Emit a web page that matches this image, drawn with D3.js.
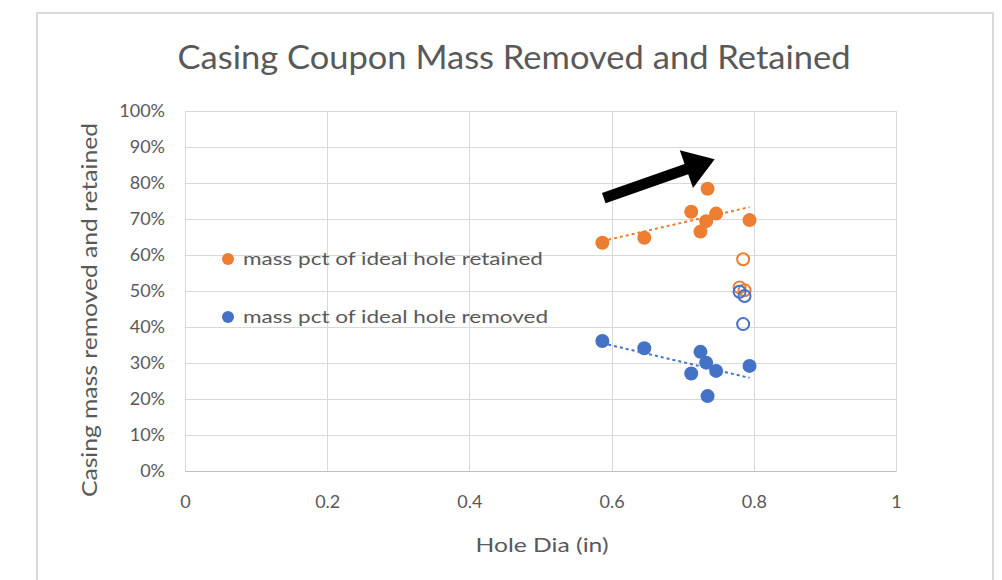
<!DOCTYPE html>
<html>
<head>
<meta charset="utf-8">
<script src="https://cdn.jsdelivr.net/npm/d3@7"></script>
<style>
  body { margin: 0; background: #fff; }
  text { font-family: Lato, "Open Sans", sans-serif; fill: #595959; }
</style>
</head>
<body>
<div id="chart"></div>
<script>
// hole dia (in) and mass pct
const holeDia      = [0.587, 0.646, 0.712, 0.735, 0.747, 0.733, 0.725, 0.794]
const pctRetained  = [0.634, 0.648, 0.720, 0.784, 0.715, 0.694, 0.665, 0.697]
const pctRemoved   = [0.361, 0.341, 0.271, 0.208, 0.278, 0.301, 0.331, 0.292]
// hollow (outlier) points
const outlierDia      = [0.785, 0.787, 0.780]
const outlierRetained = [0.588, 0.502, 0.510]
const outlierRemoved  = [0.408, 0.486, 0.498]
const xTicks = [0, 0.2, 0.4, 0.6, 0.8, 1]
const yTicks = [0, 0.1, 0.2, 0.3, 0.4, 0.5, 0.6, 0.7, 0.8, 0.9, 1]
const legendLabels = ['mass pct of ideal hole retained', 'mass pct of ideal hole removed']
// annotation arrow, in data units: [dia, pct]
const arrowFrom = [0.589, 0.758]
const arrowTo = [0.745, 0.866]

const ORANGE = '#ed7d31'
const BLUE = '#4472c4'
const GRID = '#d9d9d9'

const W = 1002, H = 580
const margin = {top: 111, right: 106, bottom: 109, left: 185}

const svg = d3.select('#chart').append('svg')
    .attr('width', W)
    .attr('height', H)

// chart border
svg.append('path')
    .attr('d', `M37,${H} V13 H993 V${H}`)
    .attr('fill', 'none')
    .attr('stroke', GRID)
    .attr('stroke-width', 2)

const x = d3.scaleLinear().domain([0, 1]).range([margin.left, W - margin.right])
const y = d3.scaleLinear().domain([0, 1]).range([H - margin.bottom, margin.top])

// gridlines
svg.append('g').selectAll('line')
    .data(yTicks)
    .join('line')
    .attr('x1', x(0)).attr('x2', x(1))
    .attr('y1', d => Math.round(y(d)) + 0.5).attr('y2', d => Math.round(y(d)) + 0.5)
    .attr('stroke', GRID)
svg.append('g').selectAll('line')
    .data(xTicks)
    .join('line')
    .attr('y1', y(0)).attr('y2', y(1))
    .attr('x1', d => Math.round(x(d)) + 0.5).attr('x2', d => Math.round(x(d)) + 0.5)
    .attr('stroke', GRID)

// axes
const xAxis = svg.append('g')
    .attr('transform', `translate(0,${y(0)})`)
    .call(d3.axisBottom(x).tickValues(xTicks).tickSize(0).tickPadding(24).tickFormat(d3.format('')))
const yAxis = svg.append('g')
    .attr('transform', `translate(${x(0)},0)`)
    .call(d3.axisLeft(y).tickValues(yTicks).tickSize(0).tickPadding(20).tickFormat(d3.format('.0%')))
xAxis.select('.domain').attr('stroke', '#bfbfbf')
yAxis.select('.domain').remove()
svg.selectAll('.tick text')
    .style('font-family', 'Lato, sans-serif')
    .style('font-size', '18px')
    .attr('fill', '#595959')

// title and axis titles
svg.append('text')
    .attr('x', 514).attr('y', 69)
    .attr('text-anchor', 'middle')
    .attr('textLength', 673)
    .attr('lengthAdjust', 'spacingAndGlyphs')
    .style('font-size', '32px')
    .text('Casing Coupon Mass Removed and Retained')

svg.append('text')
    .attr('x', 542).attr('y', 552)
    .attr('text-anchor', 'middle')
    .attr('textLength', 133)
    .attr('lengthAdjust', 'spacingAndGlyphs')
    .style('font-size', '20px')
    .text('Hole Dia (in)')

svg.append('text')
    .attr('transform', `translate(97,310) rotate(-90)`)
    .attr('text-anchor', 'middle')
    .attr('textLength', 374)
    .attr('lengthAdjust', 'spacingAndGlyphs')
    .style('font-size', '21px')
    .text('Casing mass removed and retained')

// linear trend lines (least squares) for filled points
function trend(xs, ys) {
    const mx = d3.mean(xs), my = d3.mean(ys)
    const sxy = d3.sum(xs, (v, i) => (v - mx) * (ys[i] - my))
    const sxx = d3.sum(xs, v => (v - mx) ** 2)
    const b = sxy / sxx
    const lo = d3.min(xs), hi = d3.max(xs)
    return [[lo, my + b * (lo - mx)], [hi, my + b * (hi - mx)]]
}

const line = d3.line().x(d => x(d[0])).y(d => y(d[1]))
const series = [
    {vals: pctRetained, outl: outlierRetained, color: ORANGE},
    {vals: pctRemoved, outl: outlierRemoved, color: BLUE}
]

series.forEach(s => {
    svg.append('path')
        .datum(trend(holeDia, s.vals))
        .attr('d', line)
        .attr('fill', 'none')
        .attr('stroke', s.color)
        .attr('stroke-width', 2)
        .attr('stroke-dasharray', '3,3')
})

series.forEach(s => {
    svg.append('g').selectAll('circle')
        .data(holeDia)
        .join('circle')
        .attr('cx', d => x(d))
        .attr('cy', (d, i) => y(s.vals[i]))
        .attr('r', 7)
        .attr('fill', s.color)
})

series.forEach(s => {
    svg.append('g').selectAll('circle')
        .data(outlierDia)
        .join('circle')
        .attr('cx', d => x(d))
        .attr('cy', (d, i) => y(s.outl[i]))
        .attr('r', 6)
        .attr('fill', 'none')
        .attr('stroke', s.color)
        .attr('stroke-width', 2)
})

// legend
const legend = svg.append('g')
legend.selectAll('circle')
    .data(series)
    .join('circle')
    .attr('cx', 228)
    .attr('cy', (d, i) => 259 + i * 58)
    .attr('r', 6)
    .attr('fill', d => d.color)
legend.selectAll('text')
    .data(legendLabels)
    .join('text')
    .attr('x', 243)
    .attr('y', (d, i) => 265 + i * 58)
    .attr('textLength', (d, i) => i === 0 ? 300 : 305)
    .attr('lengthAdjust', 'spacingAndGlyphs')
    .style('font-size', '18px')
    .text(d => d)

// black annotation arrow
const ax0 = x(arrowFrom[0]), ay0 = y(arrowFrom[1])
const ax1 = x(arrowTo[0]), ay1 = y(arrowTo[1])
const ang = Math.atan2(ay1 - ay0, ax1 - ax0)
const headLen = 30, headW = 20, shaft = 5.5
const len = Math.hypot(ax1 - ax0, ay1 - ay0)
const pts = [
    [0, -shaft], [len - headLen, -shaft], [len - headLen, -headW],
    [len, 0], [len - headLen, headW], [len - headLen, shaft], [0, shaft]
]
svg.append('polygon')
    .attr('points', pts.map(p => p.join(',')).join(' '))
    .attr('transform', `translate(${ax0},${ay0}) rotate(${ang * 180 / Math.PI})`)
    .attr('fill', '#000')
</script>
</body>
</html>
